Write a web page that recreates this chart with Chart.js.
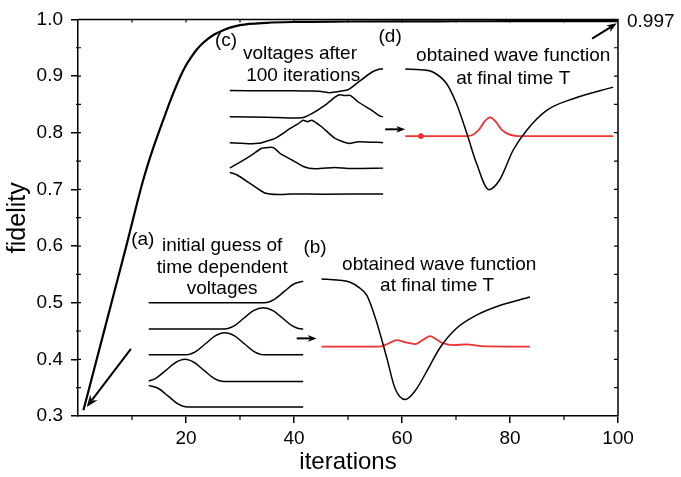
<!DOCTYPE html>
<html><head><meta charset="utf-8">
<script src="https://cdn.jsdelivr.net/npm/chart.js@4.4.0/dist/chart.umd.min.js"></script>
<style>html,body{margin:0;padding:0;background:#fff}</style>
</head><body>
<canvas id="c" width="681" height="477"></canvas>
<script>
// ---- main series ----
const iterations = [1,3,5,7,9,10,11,12,13,14,15,16,17,18,19,20,21,22,23,24,25,26,28,30,35,40,50,60,70,80,90,100];
const fidelity   = [0.31,0.383,0.456,0.529,0.602,0.640,0.678,0.714,0.746,0.775,0.802,0.828,0.854,0.878,0.900,0.919,0.934,0.947,0.957,0.965,0.972,0.977,0.985,0.990,0.994,0.9955,0.9963,0.9966,0.9967,0.9968,0.9969,0.997];

// ---- inset (a): initial guess of voltages ----
const voltA1 = [[13.1,0.500],[34.5,0.500],[36.3,0.5055],[38.1,0.519],[39.9,0.5325],[41.7,0.538]];
const voltA2 = [[13.1,0.4535],[27.1,0.4535],[28.9,0.459],[30.7,0.4725],[32.5,0.486],[34.3,0.491],[36.1,0.486],[37.9,0.4725],[39.7,0.459],[41.5,0.4535],[41.7,0.4535]];
const voltA3 = [[13.1,0.408],[20.0,0.408],[21.8,0.4137],[23.6,0.4275],[25.4,0.4413],[27.2,0.447],[29.0,0.4413],[30.8,0.4275],[32.6,0.4137],[34.4,0.408],[41.7,0.408]];
const voltA4 = [[13.1,0.3615],[14.4,0.3665],[16.2,0.380],[18.0,0.394],[19.8,0.400],[21.6,0.394],[23.4,0.380],[25.2,0.3665],[27.0,0.361],[41.7,0.361]];
const voltA5 = [[13.1,0.354],[14.9,0.3485],[16.7,0.335],[18.5,0.3215],[20.3,0.316],[41.7,0.316]];

// ---- inset (b): wave function from initial guess ----
const waveB = [[45.1,0.542],[48.0,0.540],[50.4,0.536],[52.0,0.527],[53.5,0.513],[55.3,0.466],[57.2,0.402],[58.7,0.349],[60.6,0.329],[62.4,0.344],[64.6,0.379],[67.0,0.420],[70.1,0.455],[73.8,0.478],[78.1,0.495],[83.7,0.510]];
const redB  = [[45.1,0.4225],[55.9,0.4225],[57.5,0.428],[59.0,0.434],[60.7,0.430],[62.4,0.427],[63.8,0.434],[65.2,0.441],[66.4,0.435],[67.6,0.4285],[69.5,0.425],[72.0,0.4265],[74.5,0.4235],[83.7,0.4225]];

// ---- inset (c): voltages after 100 iterations ----
const voltC1 = [[28.1,0.8745],[35.0,0.874],[40.0,0.874],[43.5,0.8735],[45.1,0.8728],[46.5,0.8705],[47.6,0.8717],[50.1,0.8763],[51.9,0.8892],[54.4,0.9067],[55.9,0.9125],[56.5,0.9125]];
const voltC2 = [[28.1,0.828],[35.0,0.8275],[41.4,0.8262],[43.3,0.8337],[45.7,0.8483],[47.6,0.863],[48.5,0.867],[49.4,0.8655],[50.4,0.8658],[51.9,0.8542],[54.4,0.8395],[55.9,0.8297],[56.5,0.828]];
const voltC3 = [[28.1,0.7825],[32.0,0.7805],[33.4,0.7812],[34.6,0.7842],[36.5,0.790],[39.3,0.8075],[40.8,0.8162],[41.7,0.822],[42.5,0.8195],[43.3,0.822],[45.1,0.8105],[47.6,0.790],[50.1,0.7812],[51.9,0.7842],[56.5,0.7825]];
const voltC4 = [[28.1,0.7375],[29.7,0.7462],[32.2,0.7608],[34.0,0.7725],[35.2,0.774],[36.2,0.7737],[37.4,0.7637],[39.6,0.752],[41.7,0.7405],[43.9,0.7363],[47.6,0.7387],[50.0,0.737],[56.5,0.7375]];
const voltC5 = [[28.1,0.730],[29.4,0.7258],[32.2,0.7083],[34.6,0.6937],[37.1,0.6908],[39.6,0.692],[45.0,0.6915],[56.5,0.692]];

// ---- inset (d): wave function after optimisation ----
const waveD = [[60.6,0.9125],[63.5,0.911],[65.8,0.9067],[68.3,0.886],[70.1,0.851],[72.0,0.799],[73.8,0.746],[76.1,0.6995],[78.1,0.717],[80.6,0.7695],[83.1,0.8045],[86.8,0.8395],[91.7,0.860],[99.1,0.8805]];
const redD  = [[60.6,0.794],[72.0,0.794],[73.2,0.797],[74.3,0.806],[75.3,0.820],[76.3,0.827],[77.3,0.820],[78.4,0.806],[79.6,0.798],[81.0,0.7945],[82.0,0.794],[99.1,0.794]];
const redDot = [[63.5,0.794]];

// ---- annotations ----
const finalValueLabel = '0.997';
const arrows = [
  {from:[9.8,0.4185], to:[1.6,0.3157], head:12},
  {from:[95.2,0.966], to:[99.75,0.993], head:10},
  {from:[40.5,0.437], to:[44.2,0.437], head:9},
  {from:[56.9,0.806], to:[60.6,0.806], head:9}
];
const texts = [
  ['(c)',27.4,0.963],['voltages after',41.1,0.939],['100 iterations',41.7,0.900],
  ['(d)',57.8,0.9685],['obtained wave function',80.6,0.935],['at final time T',80.6,0.895],
  ['(a)',12.0,0.6115],['initial guess of',26.7,0.601],['time dependent',26.7,0.5625],['voltages',26.7,0.524],
  ['(b)',43.9,0.5975],['obtained wave function',66.9,0.5677],['at final time T',66.5,0.529]
];

const FONT = "'Liberation Sans', Arial, Helvetica, sans-serif";
const pts = a => a.map(p => ({x:p[0], y:p[1]}));
const BLACK = '#000000', RED = '#ee3333';
function ds(arr, color, w){
  return {data: pts(arr), borderColor: color, borderWidth: w, pointRadius: 0, showLine: true,
          cubicInterpolationMode: 'monotone', fill: false};
}
function rough(arr){
  return Object.assign(ds(arr, BLACK, 1.5), {cubicInterpolationMode:'default', tension:0.2});
}
const mainData = iterations.map((v,i)=>[v, fidelity[i]]);

const deco = {
  id: 'deco',
  afterDatasetsDraw(chart){
    const {ctx, chartArea:a, scales:{x, y}} = chart;
    ctx.save();
    ctx.strokeStyle = '#000'; ctx.lineWidth = 1.5;
    ctx.beginPath();
    ctx.moveTo(a.left, a.top); ctx.lineTo(a.right, a.top); ctx.lineTo(a.right, a.bottom);
    ctx.stroke();
    ctx.lineWidth = 1.2;
    ctx.beginPath();
    for (let v = 10; v < 100; v += 10) {
      const px = x.getPixelForValue(v);
      ctx.moveTo(px, a.top); ctx.lineTo(px, a.top + 3);
      if (v % 20 !== 0) { ctx.moveTo(px, a.bottom); ctx.lineTo(px, a.bottom + 4); }
    }
    for (let k = 7; k <= 19; k++) {
      const v = k * 0.05;
      const py = y.getPixelForValue(v);
      ctx.moveTo(a.right, py); ctx.lineTo(a.right - 4, py);
      if (k % 2 === 1) { ctx.moveTo(a.left - 2, py); ctx.lineTo(a.left + 3, py); }
      else { ctx.moveTo(a.left, py); ctx.lineTo(a.left + 3, py); }
    }
    ctx.stroke();
    ctx.fillStyle = '#000';
    arrows.forEach(ar => {
      const x1 = x.getPixelForValue(ar.from[0]), y1 = y.getPixelForValue(ar.from[1]);
      const x2 = x.getPixelForValue(ar.to[0]),   y2 = y.getPixelForValue(ar.to[1]);
      const ang = Math.atan2(y2 - y1, x2 - x1), h = ar.head;
      const c = Math.cos(ang), s = Math.sin(ang);
      ctx.lineWidth = 2;
      ctx.beginPath(); ctx.moveTo(x1, y1);
      ctx.lineTo(x2 - c * h * 0.7, y2 - s * h * 0.7); ctx.stroke();
      ctx.beginPath(); ctx.moveTo(x2, y2);
      ctx.lineTo(x2 - h * c + h * 0.38 * s, y2 - h * s - h * 0.38 * c);
      ctx.lineTo(x2 - h * 0.7 * c, y2 - h * 0.7 * s);
      ctx.lineTo(x2 - h * c - h * 0.38 * s, y2 - h * s + h * 0.38 * c);
      ctx.closePath(); ctx.fill();
    });
    ctx.font = '19px ' + FONT; ctx.textAlign = 'center'; ctx.textBaseline = 'middle';
    texts.forEach(t => ctx.fillText(t[0], x.getPixelForValue(t[1]), y.getPixelForValue(t[2])));
    ctx.textAlign = 'left';
    ctx.fillText(finalValueLabel, a.right + 9, y.getPixelForValue(0.997) + 1);
    ctx.restore();
  }
};

new Chart(document.getElementById('c'), {
  type: 'scatter',
  data: { datasets: [
    ds(mainData, BLACK, 2.2),
    ds(voltA1, BLACK, 1.5), ds(voltA2, BLACK, 1.5), ds(voltA3, BLACK, 1.5), ds(voltA4, BLACK, 1.5), ds(voltA5, BLACK, 1.5),
    ds(waveB, BLACK, 1.5), ds(redB, RED, 1.8),
    rough(voltC1), rough(voltC2), rough(voltC3), rough(voltC4), rough(voltC5),
    ds(waveD, BLACK, 1.5), ds(redD, RED, 1.8),
    {data: pts(redDot), showLine:false, pointRadius:2.5, pointBackgroundColor:RED, pointBorderColor:RED}
  ]},
  options: {
    responsive: false, animation: false, devicePixelRatio: 1,
    layout: { padding: {top: 15, right: 63, left: 0, bottom: 0} },
    plugins: { legend: {display:false}, tooltip: {enabled:false} },
    scales: {
      x: {
        type: 'linear', min: 0, max: 100,
        afterFit: s => { s.height = 61; },
        ticks: { stepSize: 20, color: '#000', padding: 4, font: {family: FONT, size: 19},
                 callback: v => v === 0 ? '' : String(v), maxRotation: 0 },
        grid: { drawOnChartArea: false, drawTicks: true, tickLength: 7, lineWidth: 1.5,
                color: c => (c.tick && c.tick.value === 0) ? 'rgba(0,0,0,0)' : '#000' },
        border: { display: true, color: '#000', width: 1.5 },
        title: { display: true, text: 'iterations', color: '#000', font: {family: FONT, size: 24}, padding: 0 }
      },
      y: {
        type: 'linear', min: 0.3, max: 1.0,
        afterFit: s => { s.width = 78; },
        ticks: { stepSize: 0.1, color: '#000', padding: 8, font: {family: FONT, size: 19},
                 callback: v => v.toFixed(1) },
        grid: { drawOnChartArea: false, drawTicks: true, tickLength: 7, lineWidth: 1.5, color: '#000' },
        border: { display: true, color: '#000', width: 1.5 },
        title: { display: true, text: 'fidelity', color: '#000', font: {family: FONT, size: 25}, padding: {top: 3, bottom: 0} }
      }
    }
  },
  plugins: [deco]
});
</script>
</body></html>
